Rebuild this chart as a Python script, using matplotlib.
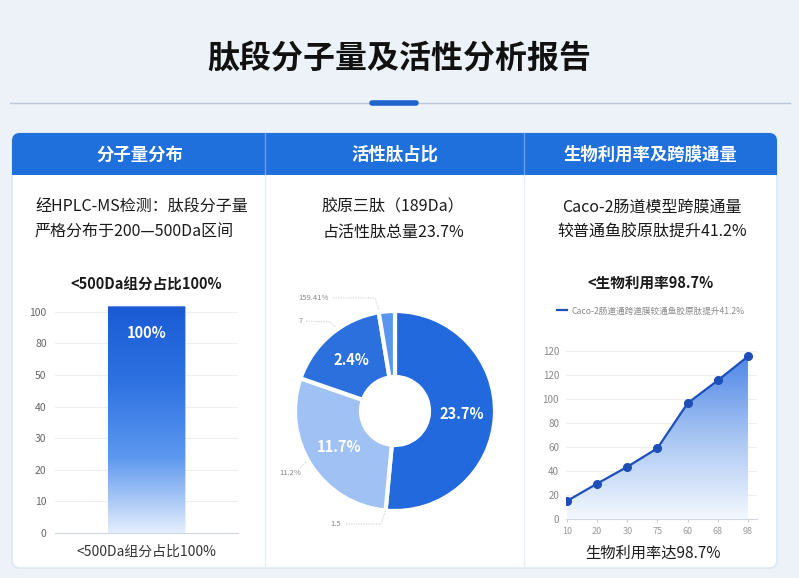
import numpy as np
import matplotlib
matplotlib.use("Agg")
import matplotlib.pyplot as plt
from matplotlib.patches import FancyBboxPatch, Rectangle
from matplotlib.colors import LinearSegmentedColormap
from matplotlib.lines import Line2D

plt.rcParams['font.family'] = ['Noto Sans CJK SC', 'DejaVu Sans']

# ---- data ----
bar_cats = ['<500Da组分占比100%']
bar_vals = [100]
bar_tick_labels = ['0', '10', '20', '30', '40', '50', '80', '100']

pie_vals = [51.5, 28.8, 17.1, 2.6]
pie_inner_labels = ['23.7%', '11.7%', '2.4%', '']
pie_outer_labels = ['1.5', '11.2%', '7', '159.41%']
pie_colors = ['#2169dc', '#9fc1f4', '#2c70de', '#5b96ec']

line_x_labels = ['10', '20', '30', '75', '60', '68', '98']
line_vals = [15, 29.5, 43.5, 59, 96.5, 115.5, 135.5]
line_y_labels = ['0', '20', '40', '60', '80', '100', '120', '120']
line_legend = 'Caco-2肠道通跨道膜较通鱼胶原肽提升41.2%'

W, H = 799, 578
fig = plt.figure(figsize=(W / 100, H / 100), dpi=100)
fig.patch.set_facecolor('#edf2f8')


def px_axes(x0, y0, x1, y1):
    return fig.add_axes([x0 / W, 1 - y1 / H, (x1 - x0) / W, (y1 - y0) / H])


# background / decoration layer in pixel coords
bg = fig.add_axes([0, 0, 1, 1])
bg.set_xlim(0, W)
bg.set_ylim(H, 0)
bg.axis('off')
bg.patch.set_alpha(0)

bg.text(W / 2, 60, '肽段分子量及活性分析报告', ha='center', va='center',
        fontsize=23, fontweight='heavy', color='#111111')
bg.plot([10, 790], [103, 103], color='#bcc8d6', lw=1)
bg.plot([372, 416], [103, 103], color='#1f63cc', lw=4, solid_capstyle='round')

# card
bg.add_patch(FancyBboxPatch((12, 133), 765, 435, boxstyle='round,pad=0,rounding_size=8',
                            fc='white', ec='#d9e4f1', lw=1))
bg.add_patch(FancyBboxPatch((12, 133), 765, 42, boxstyle='round,pad=0,rounding_size=8',
                            fc='#1f6fdc', ec='none'))
bg.add_patch(Rectangle((12, 160), 765, 15, fc='#1f6fdc', ec='none'))
for xd in [265, 524]:
    bg.plot([xd, xd], [133, 175], color='#6aa1ea', lw=1)
    bg.plot([xd, xd], [175, 568], color='#e7edf4', lw=1)

heads = ['分子量分布', '活性肽占比', '生物利用率及跨膜通量']
for xc, t in zip([140, 395, 650], heads):
    bg.text(xc, 155, t, ha='center', va='center', fontsize=12.5,
            fontweight='bold', color='white')

desc_kw = dict(va='center', fontsize=11.5, color='#1a1a1a', fontweight='medium')
bg.text(35, 207, '经HPLC-MS检测：肽段分子量', ha='left', **desc_kw)
bg.text(35, 232, '严格分布于200—500Da区间', ha='left', **desc_kw)
bg.text(393, 207, '胶原三肽（189Da）', ha='center', **desc_kw)
bg.text(393, 232, '占活性肽总量23.7%', ha='center', **desc_kw)
bg.text(652, 207, 'Caco-2肠道模型跨膜通量', ha='center', **desc_kw)
bg.text(652, 232, '较普通鱼胶原肽提升41.2%', ha='center', **desc_kw)

bg.text(146, 285, '<500Da组分占比100%', ha='center', va='center',
        fontsize=10.5, fontweight='semibold', color='#1a1a1a')
bg.text(650, 283, '<生物利用率98.7%', ha='center', va='center',
        fontsize=10.5, fontweight='semibold', color='#1a1a1a')
bg.text(146, 552, bar_cats[0], ha='center', va='center', fontsize=10, color='#333333')
bg.text(653, 553, '生物利用率达98.7%', ha='center', va='center', fontsize=11, color='#1a1a1a')

# ---- panel 1: bar ----
ax1 = px_axes(55, 303, 238, 533)
ax1.patch.set_alpha(0)
ax1.set_xlim(-1, 1)
ax1.set_ylim(0, 104)
yt = np.linspace(0, 100, len(bar_tick_labels))
ax1.set_yticks(yt)
ax1.set_yticklabels(bar_tick_labels)
for y in yt[1:]:
    ax1.axhline(y, color='#eeeeee', lw=0.8, zorder=0)
bars = ax1.bar([0], bar_vals, width=0.85, color='none', zorder=2)
cmap_bar = LinearSegmentedColormap.from_list('b', ['#e4eefc', '#5d98ef', '#2e72e2', '#1a5bd4'])
grad = np.linspace(0, 1, 256).reshape(-1, 1)
im = ax1.imshow(grad, cmap=cmap_bar, origin='lower', aspect='auto',
                extent=(-0.425, 0.425, 0, bar_vals[0] + 2.5), zorder=2)
clip = FancyBboxPatch((-0.425, 0), 0.85, bar_vals[0] + 2.5,
                      boxstyle='round,pad=0,rounding_size=0.03', transform=ax1.transData,
                      fc='none', ec='none')
ax1.add_patch(clip)
im.set_clip_path(clip)
ax1.text(0, 90.5, '100%', ha='center', va='center', color='white',
         fontsize=10.5, fontweight='bold', zorder=3)
ax1.set_xticks([])
for s in ['top', 'right', 'left']:
    ax1.spines[s].set_visible(False)
ax1.spines['bottom'].set_color('#cfd6df')
ax1.tick_params(axis='y', length=0, labelsize=7.5, labelcolor='#666666', pad=6)

# ---- panel 2: donut ----
ax2 = px_axes(275, 291, 515, 531)
ax2.axis('off')
wedges, _ = ax2.pie(pie_vals, colors=pie_colors, startangle=90, counterclock=False,
                    radius=1, wedgeprops=dict(width=0.66, edgecolor='white', linewidth=3))
ax2.set_aspect('equal')
ax2.set_xlim(-1.2, 1.2)
ax2.set_ylim(-1.2, 1.2)
for w, lab in zip(wedges, pie_inner_labels):
    if not lab:
        continue
    ang = np.deg2rad((w.theta1 + w.theta2) / 2)
    ax2.text(0.67 * np.cos(ang), 0.67 * np.sin(ang), lab, ha='center', va='center',
             color='white', fontsize=10.5, fontweight='bold')


def d(px, py):
    return ((px - 395) / 100, (411 - py) / 100)


outer = [
    (pie_outer_labels[0], (336, 524), [(346, 524), (381, 524), (386, 510)]),
    (pie_outer_labels[1], (290, 473), [(298, 470), (306, 462)]),
    (pie_outer_labels[2], (301, 321), [(306, 321), (330, 322), (336, 328)]),
    (pie_outer_labels[3], (314, 298), [(333, 298), (375, 298), (379, 310)]),
]
for lab, pos, path in outer:
    tx, ty = d(*pos)
    ax2.text(tx, ty, lab, ha='center', va='center', fontsize=5.5, color='#888888')
    pts = np.array([d(*p) for p in path])
    ax2.plot(pts[:, 0], pts[:, 1], color='#c8c8c8', lw=0.6, ls=(0, (1.5, 1.5)))

# ---- panel 3: line ----
ax3 = px_axes(566, 351, 757, 519)
ax3.patch.set_alpha(0)
xi = np.arange(len(line_vals))
ax3.set_xlim(-0.033, 6.3)
ax3.set_ylim(0, 140)
yt3 = np.arange(0, 141, 20)
ax3.set_yticks(yt3)
ax3.set_yticklabels(line_y_labels)
ax3.set_xticks(xi)
ax3.set_xticklabels(line_x_labels)
for y in yt3[1:]:
    ax3.axhline(y, color='#eeeeee', lw=0.8, zorder=0)
cmap_fill = LinearSegmentedColormap.from_list('f', ['#f4f8fe', '#a9c6f3', '#4f86e6'])
fill = ax3.fill_between(xi, line_vals, 0, color='none')
im3 = ax3.imshow(grad, cmap=cmap_fill, origin='lower', aspect='auto',
                 extent=(0, 6, 0, max(line_vals)), zorder=1)
im3.set_clip_path(fill.get_paths()[0], transform=ax3.transData)
ax3.plot(xi, line_vals, color='#1d4fb8', lw=1.6, marker='o', ms=5.5, zorder=3)
for s in ['top', 'right', 'left']:
    ax3.spines[s].set_visible(False)
ax3.spines['bottom'].set_color('#d3d9e0')
ax3.tick_params(axis='y', length=0, labelsize=7, labelcolor='#888888', pad=5)
ax3.tick_params(axis='x', length=2, color='#cccccc', labelsize=6.5, labelcolor='#999999', pad=4)
ax3.legend(handles=[Line2D([], [], color='#1d4fb8', lw=1.6)], labels=[line_legend],
           loc='center', bbox_to_anchor=(651 / W, 1 - 311 / H), bbox_transform=fig.transFigure,
           frameon=False, fontsize=6.2, handlelength=1.2, handletextpad=0.5, labelcolor='#888888')

fig.savefig('out.png', dpi=100, facecolor=fig.get_facecolor())
